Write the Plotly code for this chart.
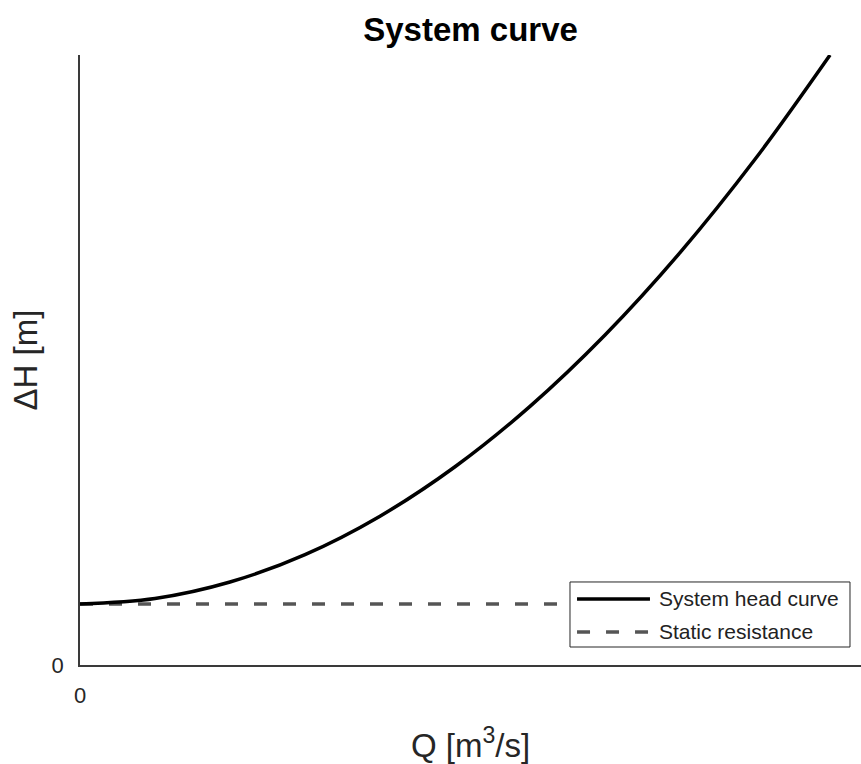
import plotly.graph_objects as go

# Flow rate Q [m^3/s] and system head ΔH [m]
flow_q = [0.0, 0.1, 0.2, 0.3, 0.4, 0.5, 0.6, 0.7, 0.8, 0.9, 1.0]
head_h = [10.0, 10.9, 13.6, 18.1, 24.4, 32.5, 42.4, 54.1, 67.6, 82.9, 100.0]

# Static head, constant over the whole flow range
static_q = [0.0, 1.05]
static_h = [10.0, 10.0]

series_names = ["System head curve", "Static resistance"]
x_ticks = [0]
y_ticks = [0]

FONT = "Liberation Sans, Arial, sans-serif"
AXIS_GREY = "#3a3a3a"
DASH_GREY = "#555555"

fig = go.Figure()
fig.add_trace(go.Scatter(
    x=static_q, y=static_h, mode="lines", name=series_names[1],
    line=dict(color=DASH_GREY, width=3.5, dash="13px,16px"),
    showlegend=False, hoverinfo="skip",
))
fig.add_trace(go.Scatter(
    x=flow_q, y=head_h, mode="lines", name=series_names[0],
    line=dict(color="black", width=3.5, shape="spline", smoothing=1.0),
    showlegend=False,
))

# Legend box drawn in paper coordinates, bottom-right of the axes
box = dict(x0=0.6274, x1=0.9859, y0=0.0295, y1=0.1361)
row_y = [0.1082, 0.0541]
sample_x = (0.6364, 0.7298)
text_x = 0.7388

shapes = [
    dict(type="rect", xref="paper", yref="paper", layer="above",
         fillcolor="white", line=dict(color="#262626", width=1), **box),
    dict(type="line", xref="paper", yref="paper", layer="above",
         x0=sample_x[0], x1=sample_x[1], y0=row_y[0], y1=row_y[0],
         line=dict(color="black", width=3.5)),
    dict(type="line", xref="paper", yref="paper", layer="above",
         x0=sample_x[0], x1=sample_x[1], y0=row_y[1], y1=row_y[1],
         line=dict(color=DASH_GREY, width=3.5, dash="13px,16px")),
]
annotations = [
    dict(xref="paper", yref="paper", x=text_x, y=yy, text=name,
         xanchor="left", yanchor="middle", showarrow=False,
         font=dict(family=FONT, size=21, color="#222222"))
    for name, yy in zip(series_names, row_y)
]

fig.update_layout(
    width=861, height=764, autosize=False,
    margin=dict(l=80, r=0, t=55, b=99, pad=0),
    paper_bgcolor="white", plot_bgcolor="white",
    title=dict(text="<b>System curve</b>", x=0.5465, xanchor="center",
               y=0.962, yanchor="middle",
               font=dict(family=FONT, size=33, color="black")),
    shapes=shapes, annotations=annotations,
    showlegend=False,
)
fig.update_xaxes(
    range=[0, 1.0413], showgrid=False, zeroline=False,
    showline=True, linecolor=AXIS_GREY, linewidth=1.5,
    tickvals=x_ticks, ticks="", ticklabelstandoff=10,
    tickfont=dict(family=FONT, size=22, color="#262626"),
    title=dict(text="Q [m<sup>3</sup>/s]", standoff=27,
               font=dict(family=FONT, size=33, color="#262626")),
)
fig.update_yaxes(
    range=[0, 100], showgrid=False, zeroline=False,
    showline=True, linecolor=AXIS_GREY, linewidth=1.5,
    tickvals=y_ticks, ticks="", ticklabelstandoff=10,
    tickfont=dict(family=FONT, size=22, color="#262626"),
    title=dict(text="ΔH [m]", standoff=4,
               font=dict(family=FONT, size=33, color="#262626")),
)

fig.write_html("out.html")
